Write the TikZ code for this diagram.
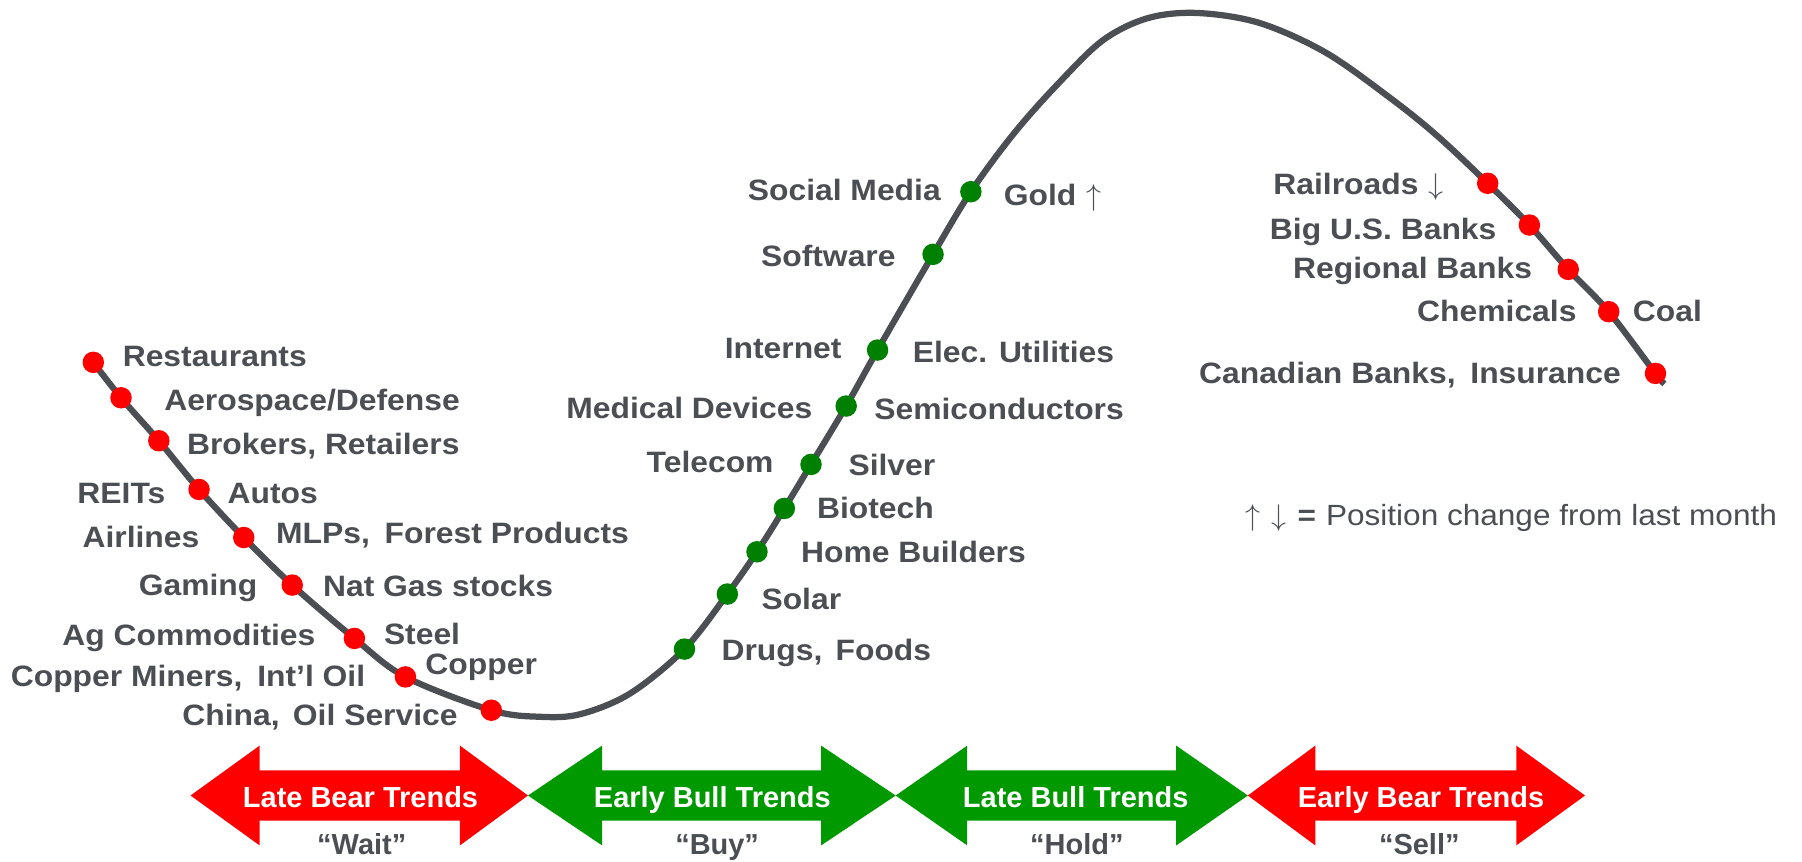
\documentclass[tikz,border=0pt]{standalone}
\usepackage{fontspec}
\setmainfont{Liberation Sans}[FakeStretch=1.08]
\newfontfamily\arrfont{Liberation Sans}
\definecolor{txt}{HTML}{4B4E53}
\definecolor{dotred}{RGB}{255,0,0}
\definecolor{dotgreen}{RGB}{0,128,0}
\definecolor{bandred}{RGB}{255,0,0}
\definecolor{bandgreen}{RGB}{0,153,0}
\newcommand{\dblarr}[5]{%
  \fill[#5] (#1,692.2) -- (#2,648.8) -- (#2,670.4) -- (#3,670.4) -- (#3,648.8) -- (#4,692.2)
    -- (#3,735.6) -- (#3,714.0) -- (#2,714.0) -- (#2,735.6) -- cycle;}
\newcommand{\uparr}{\ensuremath{\uparrow}}
\newcommand{\dnarr}{\ensuremath{\downarrow}}
\begin{document}
\begin{tikzpicture}[x=0.46pt,y=-0.46pt,
  lbl/.style={inner sep=0pt, text=txt, font=\fontsize{11.8}{14}\selectfont\bfseries},
  lw/.style={lbl, anchor=base west},
  le/.style={lbl, anchor=base east},
  rdot/.style={circle, fill=dotred, inner sep=0pt, minimum size=8.6pt},
  gdot/.style={circle, fill=dotgreen, inner sep=0pt, minimum size=8.6pt},
  curve/.style={line width=2.5pt, draw=txt, line cap=butt, line join=round},
  band/.style={inner sep=0pt, text=white, font=\arrfont\fontsize{11.6}{14}\selectfont\bfseries, anchor=base},
  word/.style={inner sep=0pt, text=txt, font=\arrfont\fontsize{11.6}{14}\selectfont\bfseries, anchor=base},
  legend/.style={inner sep=0pt, text=txt, font=\fontsize{11.7}{14}\selectfont, anchor=base west}
]
\useasboundingbox (0,0) rectangle (1568,750);

% curve points
\coordinate (c1) at (81.2,315.3);
\coordinate (c2) at (105.3,346.1);
\coordinate (c3) at (138.2,383.5);
\coordinate (c4) at (173.2,425.9);
\coordinate (c5) at (212.1,467.7);
\coordinate (c6) at (254.3,509.1);
\coordinate (c7) at (308.4,555.5);
\coordinate (c8) at (352.8,589.0);
\coordinate (c9) at (427.5,618.0);
\coordinate (e1) at (470.0,623.7);
\coordinate (e2) at (505.0,621.4);
\coordinate (e3) at (548.3,603.4);
\coordinate (g1) at (595.6,564.8);
\coordinate (g2) at (632.9,516.9);
\coordinate (g3) at (658.7,480.1);
\coordinate (g4) at (682.5,442.4);
\coordinate (g5) at (705.7,404.1);
\coordinate (g6) at (736.3,353.3);
\coordinate (g7) at (763.6,304.6);
\coordinate (g8) at (811.9,221.3);
\coordinate (g9) at (844.8,166.8);
\coordinate (t1) at (882.5,115.8);
\coordinate (t2) at (921.3,72.2);
\coordinate (t3) at (960.0,34.8);
\coordinate (t4) at (999.0,15.7);
\coordinate (t5) at (1042.0,11.3);
\coordinate (t6) at (1096.0,20.0);
\coordinate (t7) at (1154.0,46.0);
\coordinate (t8) at (1212.0,87.0);
\coordinate (t9) at (1251.5,119.0);
\coordinate (r1) at (1294.5,159.5);
\coordinate (r2) at (1330.8,195.8);
\coordinate (r3) at (1364.6,234.4);
\coordinate (r4) at (1399.8,271.2);
\coordinate (r5) at (1440.5,324.9);
\coordinate (rend) at (1448.3,334.0);

\draw[curve] plot[smooth, tension=0.55] coordinates {(c1) (c2) (c3) (c4) (c5) (c6) (c7) (c8) (c9) (e1) (e2) (e3) (g1) (g2) (g3) (g4) (g5) (g6) (g7) (g8) (g9) (t1) (t2) (t3) (t4) (t5) (t6) (t7) (t8) (t9) (r1) (r2) (r3) (r4) (r5) (rend)};

% dots
\foreach \p in {c1,c2,c3,c4,c5,c6,c7,c8,c9,r1,r2,r3,r4,r5} \node[rdot] (d\p) at (\p) {};
\foreach \p in {g1,g2,g3,g4,g5,g6,g7,g8,g9} \node[gdot] (d\p) at (\p) {};

% left group labels
\node[lw] (restaurants) at (106.4,318.5) {Restaurants};
\node[lw] (aero) at (142.5,356.8) {Aerospace/Defense};
\node[lw] (brokers) at (162.3,395.1) {Brokers, Retailers};
\node[le] (reits) at (144.3,438.0) {REITs};
\node[lw] (autos) at (197.7,438.0) {Autos};
\node[le] (airlines) at (173.9,476.4) {Airlines};
\node[lw] (mlps) at (239.9,472.9) {MLPs,\hspace{0.2em} Forest Products};
\node[le] (gaming) at (224.4,517.8) {Gaming};
\node[lw] (natgas) at (280.7,519.3) {Nat Gas stocks};
\node[le] (ag) at (274.9,562.0) {Ag Commodities};
\node[lw] (steel) at (333.7,560.5) {Steel};
\node[le] (cminers) at (318.2,597.0) {Copper Miners,\hspace{0.2em} Int’l Oil};
\node[lw] (copper) at (369.8,586.6) {Copper};
\node[le] (china) at (398.6,631.0) {China,\hspace{0.15em} Oil Service};

% middle group labels
\node[lw] (drugs) at (627.4,574.4) {Drugs,\hspace{0.15em} Foods};
\node[lw] (solar) at (662.2,530.3) {Solar};
\node[lw] (home) at (696.7,489.7) {Home Builders};
\node[lw] (biotech) at (710.5,451.1) {Biotech};
\node[le] (telecom) at (673.5,411.3) {Telecom};
\node[lw] (silver) at (737.9,413.4) {Silver};
\node[le] (medical) at (707.3,364.0) {Medical Devices};
\node[lw] (semi) at (760.4,364.9) {Semiconductors};
\node[le] (internet) at (732.7,311.8) {Internet};
\node[lw] (elec) at (793.9,315.6) {Elec. Utilities};
\node[le] (software) at (779.7,232.0) {Software};
\node[le] (social) at (819.0,174.6) {Social Media};
\node[lw] (gold) at (873.1,178.4) {Gold\hspace{4pt}\uparr};

% right group labels
\node[le] (rail) at (1256.5,168.8) {Railroads\hspace{4pt}\dnarr};
\node[le] (bigus) at (1302.5,208.8) {Big U.S. Banks};
\node[le] (regional) at (1333.5,242.2) {Regional Banks};
\node[le] (chem) at (1372.2,279.9) {Chemicals};
\node[lw] (coal) at (1420.5,279.9) {Coal};
\node[le] (canadian) at (1410.8,333.6) {Canadian Banks,\hspace{0.2em} Insurance};

% legend
\node[legend] (leg) at (1083.0,457.0) {\uparr\hspace{4.5pt}\dnarr\hspace{4.5pt}{\bfseries=}\hspace{4pt}Position change from last month};

% bottom arrows
\dblarr{165.8}{225.9}{400.2}{459.4}{bandred}
\dblarr{459.4}{523.9}{714.5}{779.4}{bandgreen}
\dblarr{779.4}{841.6}{1023.5}{1085.8}{bandgreen}
\dblarr{1085.8}{1144.5}{1319.4}{1379.2}{bandred}

\node[band] (lbear) at (313.7,702.6) {Late Bear Trends};
\node[band] (ebull) at (619.8,702.6) {Early Bull Trends};
\node[band] (lbull) at (936.0,702.6) {Late Bull Trends};
\node[band] (ebear) at (1236.5,702.6) {Early Bear Trends};

\node[word] (wait) at (314.8,743.3) {“Wait”};
\node[word] (buy) at (624.0,743.3) {“Buy”};
\node[word] (hold) at (937.0,743.3) {“Hold”};
\node[word] (sell) at (1235.0,743.3) {“Sell”};
\end{tikzpicture}
\end{document}
